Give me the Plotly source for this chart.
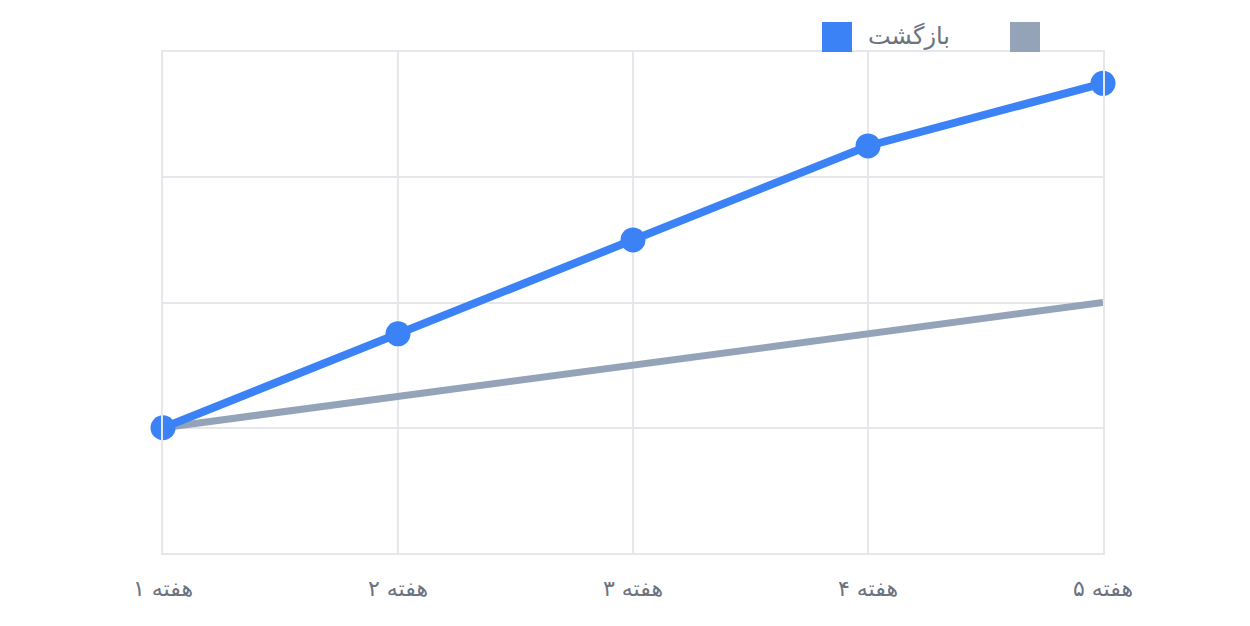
import plotly.graph_objects as go

weeks = ["هفته ۱", "هفته ۲", "هفته ۳", "هفته ۴", "هفته ۵"]
returns = [1.0, 1.75, 2.5, 3.25, 3.75]
baseline = [1.0, 1.25, 1.5, 1.75, 2.0]
legend_label = "بازگشت"

BLUE = "#3b82f6"
GRAY = "#94a3b8"
GRID = "#e5e7eb"
TEXT = "#6b7280"
FONT = "DejaVu Sans"

OFF = 8  # page body margin
W, H = 1250 - 2 * OFF, 626 - 2 * OFF
L, T = 163 - OFF, 52 - OFF
PW, PH = 940, 501
R = W - L - PW
B = H - T - PH

fig = go.Figure()
fig.add_trace(go.Scatter(x=weeks, y=baseline, mode="lines",
                         line=dict(color=GRAY, width=7), showlegend=False,
                         cliponaxis=False))
fig.add_trace(go.Scatter(x=weeks, y=returns, mode="lines+markers",
                         line=dict(color=BLUE, width=8),
                         marker=dict(color=BLUE, size=25), showlegend=False,
                         cliponaxis=False))

def px(x):
    return (x - OFF - L) / PW
def py(y):
    return (H - B - (y - OFF)) / PH

# legend drawn as shapes/annotation
fig.add_shape(type="rect", xref="paper", yref="paper",
              x0=px(822), x1=px(852), y0=py(52), y1=py(22),
              fillcolor=BLUE, line=dict(width=0))
fig.add_shape(type="rect", xref="paper", yref="paper",
              x0=px(1010), x1=px(1040), y0=py(52), y1=py(22),
              fillcolor=GRAY, line=dict(width=0))
fig.add_annotation(xref="paper", yref="paper", x=px(909), y=py(36),
                   text=legend_label, showarrow=False,
                   font=dict(family=FONT, size=24, color=TEXT),
                   xanchor="center", yanchor="middle")

fig.update_layout(
    width=W, height=H,
    margin=dict(l=L, r=R, t=T, b=B),
    paper_bgcolor="white", plot_bgcolor="white",
    font=dict(family=FONT, size=22, color=TEXT),
    xaxis=dict(type="category", range=[0, 4], showgrid=True, gridcolor=GRID,
               gridwidth=2, showline=True, mirror=True, linecolor=GRID,
               linewidth=2, ticks="outside", ticklen=15,
               tickcolor="rgba(0,0,0,0)", zeroline=False,
               tickfont=dict(family=FONT, size=22, color=TEXT)),
    yaxis=dict(range=[0, 4], dtick=1, showgrid=True, gridcolor=GRID,
               gridwidth=2, showline=True, mirror=True, linecolor=GRID,
               linewidth=2, showticklabels=False, zeroline=False),
)

fig.write_html("out.html")
